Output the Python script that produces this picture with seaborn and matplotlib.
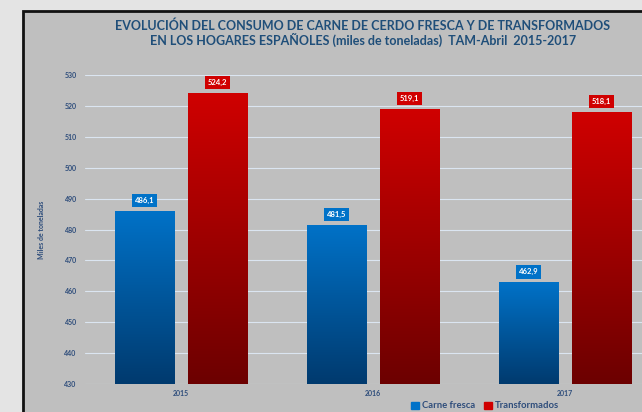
import matplotlib.pyplot as plt
import matplotlib.patches as mpatches
import matplotlib.colors as mcolors
import numpy as np
import pandas as pd
import seaborn as sns

years = ["2015", "2016", "2017"]
series = ["Carne fresca", "Transformados"]
carne_fresca = [486.1, 481.5, 462.9]
transformados = [524.2, 519.1, 518.1]
y_ticks = [430, 440, 450, 460, 470, 480, 490, 500, 510, 520, 530]

df = pd.DataFrame({
    "year": years * 2,
    "serie": [series[0]] * 3 + [series[1]] * 3,
    "valor": carne_fresca + transformados,
})

top_colors = {series[0]: "#0072c8", series[1]: "#d00000"}
bot_colors = {series[0]: "#003a6e", series[1]: "#6c0000"}
text_blue = "#2e4d7b"

sns.set_style("white")
plt.rcParams["font.family"] = ["Lato", "DejaVu Sans"]

fig = plt.figure(figsize=(6.42, 4.12), dpi=100)
fig.patch.set_facecolor("#e4e4e4")

# gray chart panel with black left/top border
panel = mpatches.Rectangle((23 / 642, -0.1), 1.0, 1 - 11 / 412 + 0.1,
                           transform=fig.transFigure, facecolor="#bfbfbf",
                           edgecolor="#111111", linewidth=2, zorder=-10)
fig.patches.append(panel)

ax = fig.add_axes([85 / 642, 28 / 412, 576 / 642, 309 / 412])
ax.set_facecolor("none")

sns.barplot(data=df, x="year", y="valor", hue="serie", order=years,
            hue_order=series, width=0.76, gap=0.19, ax=ax,
            palette=top_colors, legend=False, zorder=3)

ax.set_ylim(430, 530)
ax.set_xlim(-0.5, 2.5)
ax.set_yticks(y_ticks)

# gradient fill for each bar
for i, bar in enumerate(ax.patches):
    s = series[i // 3]
    x0, w = bar.get_x(), bar.get_width()
    h = bar.get_y() + bar.get_height()
    cmap = mcolors.LinearSegmentedColormap.from_list(
        "g", [bot_colors[s], top_colors[s]])
    grad = np.linspace(0, 1, 256).reshape(-1, 1)
    im = ax.imshow(grad, cmap=cmap, origin="lower", aspect="auto",
                   extent=[x0, x0 + w, 430, h], zorder=3)
    im.set_clip_path(bar)
    bar.set_edgecolor("#8a8a8a")
    bar.set_linewidth(0.6)

    val = bar.get_height()
    ax.annotate(f"{val:.1f}".replace(".", ","), (x0 + w / 2, h),
                xytext=(0, 7.5), textcoords="offset points",
                ha="center", va="center", fontsize=5.5, fontweight="bold",
                color="white", zorder=5,
                bbox=dict(boxstyle="square,pad=0.4", fc=top_colors[s],
                          ec="none"))

ax.set_xlim(-0.5, 2.5)
ax.set_ylim(430, 530)
ax.grid(axis="y", color="#dbe5f1", linewidth=0.8, zorder=0)
for sp in ax.spines.values():
    sp.set_visible(False)
ax.tick_params(axis="both", length=0, labelsize=5, labelcolor=text_blue)
ax.tick_params(axis="y", pad=6)
ax.tick_params(axis="x", pad=4)
for lab in ax.get_xticklabels() + ax.get_yticklabels():
    lab.set_fontweight("bold")
ax.set_xlabel("")
ax.set_ylabel("Miles de toneladas", fontsize=5, color=text_blue, labelpad=14,
              fontweight="bold")

handles = [mpatches.Patch(color=top_colors[s], label=s) for s in series]
fig.legend(handles=handles, loc="center", bbox_to_anchor=(485 / 642, 1 - 406 / 412),
           ncol=2, frameon=False, handlelength=0.8,
           handleheight=0.8, columnspacing=1.0, handletextpad=0.3,
           labelcolor=text_blue, prop={"weight": "bold", "size": 6.8})

fig.text(363 / 642, 1 - 26 / 412,
         "EVOLUCIÓN DEL CONSUMO DE CARNE DE CERDO FRESCA Y DE TRANSFORMADOS",
         ha="center", va="center", fontsize=9, fontweight="bold", color="#1f4e79")
fig.text(363 / 642, 1 - 40 / 412,
         "EN LOS HOGARES ESPAÑOLES (miles de toneladas)  TAM-Abril  2015-2017",
         ha="center", va="center", fontsize=9, fontweight="bold", color="#1f4e79")

fig.savefig("out.png", dpi=100, facecolor=fig.get_facecolor())
